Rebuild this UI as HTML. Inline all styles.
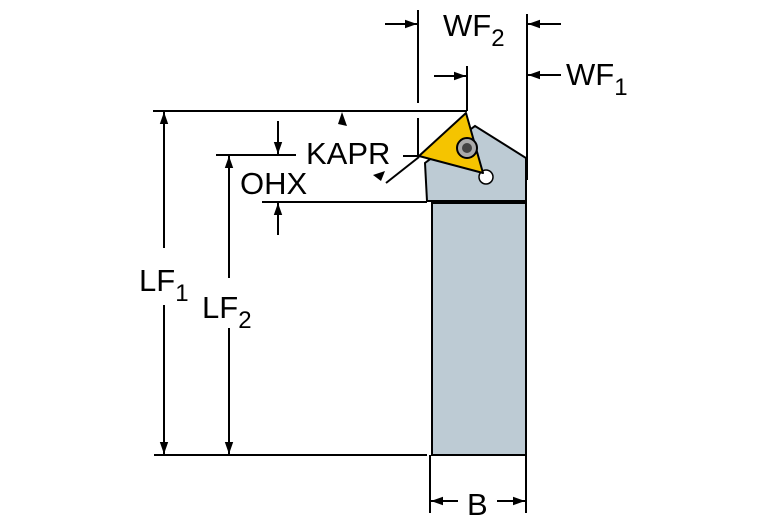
<!DOCTYPE html>
<html><head><style>html,body{margin:0;padding:0;background:#fff;}svg{display:block}</style></head>
<body>
<svg width="767" height="523" viewBox="0 0 767 523" xmlns="http://www.w3.org/2000/svg" font-family="Liberation Sans, Arial, sans-serif">
<defs>
<marker id="a" viewBox="0 0 10 10" refX="10" refY="5" markerWidth="12" markerHeight="12" markerUnits="userSpaceOnUse" orient="auto"><path d="M0,1.5 L10,5 L0,8.5 Z" fill="#000"/></marker>
</defs>
<g stroke="#000" stroke-width="2" fill="none">
<rect x="432" y="203" width="94" height="252" fill="#bdcbd4"/>
<path d="M475,126 L526,158 L526,201 L427,201 L425,163 Z" fill="#bdcbd4"/>
<circle cx="486" cy="177" r="7" fill="#fff" stroke-width="1.5"/>
<path d="M466,113 L419,156 L483,173 Z" fill="#f5c400" stroke-linejoin="round"/>
<circle cx="467" cy="148" r="10" fill="#aaa" stroke-width="2"/>
<circle cx="467" cy="148" r="5" fill="#444" stroke="none"/>
<line x1="153" y1="111" x2="467" y2="111"/>
<line x1="418" y1="10" x2="418" y2="103"/>
<line x1="418" y1="118" x2="418" y2="155"/>
<line x1="527" y1="14" x2="527" y2="180"/>
<line x1="467" y1="66" x2="467" y2="111"/>
<line x1="154" y1="455" x2="427" y2="455"/>
<line x1="216" y1="155" x2="296" y2="155"/>
<line x1="262" y1="202" x2="427" y2="202"/>
<line x1="430" y1="455" x2="430" y2="513"/>
<line x1="526" y1="455" x2="526" y2="513"/>
<line x1="403" y1="156" x2="419" y2="156"/>
<line x1="419" y1="157" x2="386" y2="183"/>
</g>
<g stroke="#000" stroke-width="2" fill="none" marker-end="url(#a)">
<line x1="385" y1="24" x2="417" y2="24"/>
<line x1="561" y1="24" x2="528" y2="24"/>
<line x1="561" y1="75" x2="528" y2="75"/>
<line x1="434" y1="76" x2="466" y2="76"/>
<line x1="164" y1="248" x2="164" y2="112"/>
<line x1="164" y1="305" x2="164" y2="454"/>
<line x1="229" y1="278" x2="229" y2="156"/>
<line x1="229" y1="328" x2="229" y2="454"/>
<line x1="278" y1="121" x2="278" y2="154"/>
<line x1="278" y1="235" x2="278" y2="203"/>
<line x1="458" y1="501" x2="431" y2="501"/>
<line x1="497" y1="501" x2="525" y2="501"/>
</g>
<path d="M342,112 L347,126 L338,124 Z" fill="#000"/>
<path d="M373,175 L385,171 L381,181 Z" fill="#000"/>
<g fill="#000" font-size="31">
<text x="443" y="36">WF<tspan font-size="24" dy="10">2</tspan></text>
<text x="566" y="85">WF<tspan font-size="24" dy="10">1</tspan></text>
<text x="306" y="164">KAPR</text>
<text x="240" y="194">OHX</text>
<text x="139" y="291">LF<tspan font-size="24" dy="10">1</tspan></text>
<text x="202" y="318">LF<tspan font-size="24" dy="10">2</tspan></text>
<text x="467" y="515">B</text>
</g>
</svg>
</body></html>
